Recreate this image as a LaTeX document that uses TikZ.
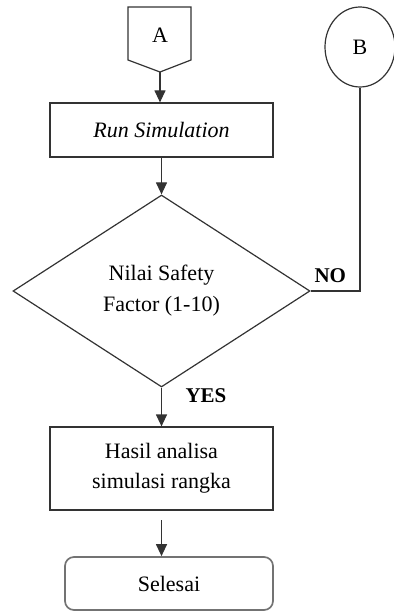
\documentclass[tikz,border=0pt]{standalone}
\usepackage{fontspec}
\setmainfont{Liberation Serif}
\usetikzlibrary{shapes.geometric,arrows.meta}
\begin{document}
\begin{tikzpicture}[x=1pt,y=-1pt,
  line/.style={draw=black!80,line width=1.2pt},
  flow/.style={line,-{Triangle[length=12pt,width=11pt]}},
  procbox/.style={line,rectangle,inner sep=0pt,font=\fontsize{22}{30}\selectfont,align=center},
  endbox/.style={draw=black!55,line width=1.7pt,rectangle,rounded corners=9pt,inner sep=0pt,font=\fontsize{22}{30}\selectfont},
  decision/.style={line,diamond,inner sep=0pt,aspect=1.55,font=\fontsize{22}{31}\selectfont,align=center},
  lbl/.style={font=\fontsize{21}{22}\selectfont\bfseries}]
\useasboundingbox (0,0) rectangle (393,612);

% off-page connector A
\draw[line] (128,7) -- (191,7) -- (191,60) -- (160,72) -- (128,60) -- cycle;
\node[font=\fontsize{22}{24}\selectfont] (A) at (160,35) {A};
\coordinate (Atip) at (160,72);

% connector B
\node[line,ellipse,minimum width=70pt,minimum height=80pt,inner sep=0pt,font=\fontsize{22}{24}\selectfont] (B) at (360,47) {B};

% process steps
\node[procbox,minimum width=223pt,minimum height=54pt] (run) at (161.5,130) {\itshape Run Simulation};
\node[decision,minimum width=297pt,minimum height=192pt] (dec) at (161.5,291) {Nilai Safety\\Factor (1-10)};
\node[procbox,minimum width=223pt,minimum height=83pt] (hasil) at (161.5,468.5) {Hasil analisa\\simulasi rangka};
\node[endbox,minimum width=208pt,minimum height=53pt] (end) at (169,583.5) {Selesai};

% connectors
\draw[flow] (Atip) -- (run.north -| Atip);
\draw[flow] (run.south) -- (dec.north);
\draw[flow] (dec.south) -- (hasil.north);
\coordinate (gap) at (161.5,520);
\draw[flow] (gap) -- (gap |- end.north);
\draw[line] (dec.east) -| (B.south);

% branch labels
\node[lbl,anchor=south west] (no) at (311,286) {NO};
\node[lbl,anchor=west] (yes) at (182,396) {YES};
\end{tikzpicture}
\end{document}
